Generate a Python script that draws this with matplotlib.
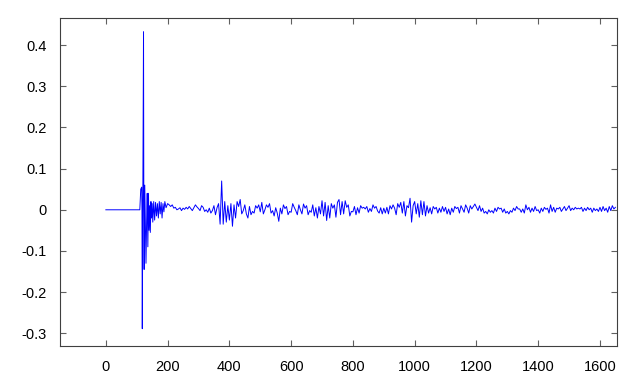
import numpy as np
import matplotlib
matplotlib.use("Agg")
import matplotlib.pyplot as plt

plt.rcParams['font.family'] = ['Liberation Sans', 'DejaVu Sans']

## DATA

# onset: flat line, direct arrival spike and early ringing
onset_x = [0, 110, 113, 116, 117, 118, 120, 122, 123, 124, 126, 128, 130, 132, 134,
           136, 138, 140, 142, 144, 146, 148, 150, 152, 155, 158, 161, 164, 167, 170,
           173, 176, 179, 182, 185, 188, 191, 195]
onset_y = [0.0, 0.0, 0.05, 0.055, 0.0, -0.289, 0.06, 0.433, 0.0, -0.145, 0.06, -0.04,
           -0.13, -0.03, 0.04, -0.09, 0.04, -0.05, 0.01, -0.055, 0.02, -0.02, 0.015,
           -0.03, 0.02, -0.025, 0.018, -0.015, 0.015, -0.02, 0.02, -0.01, 0.018, -0.02,
           0.015, -0.005, 0.02, 0.005]

# tail: one value every 5 samples from 200 to 1650
tail_start, tail_step = 200, 5
tail_y = [
    0.015, 0.012, 0.008, 0.012, 0.004, 0.006, 0.0, 0.002, 0.005, -0.002,
    0.004, 0.001, 0.006, 0.002, 0.008, 0.003, -0.002, 0.005, 0.012, 0.007,
    0.003, -0.002, 0.01, 0.006, -0.004, 0.0, -0.006, 0.004, -0.008, -0.002,
    0.01, -0.012, 0.005, 0.015, -0.035, 0.07, -0.035, 0.02, -0.03, 0.01,
    -0.025, 0.015, -0.04, 0.012, -0.02, 0.02, 0.008, 0.025, -0.01, -0.002,
    0.012, -0.01, -0.02, 0.008, -0.012, -0.004, -0.008, 0.01, 0.004, 0.012,
    -0.005, 0.018, -0.01, 0.0, 0.012, 0.006, 0.015, -0.008, -0.002, -0.015,
    0.005, -0.008, -0.028, 0.004, -0.01, 0.012, 0.003, 0.008, -0.012, -0.004,
    -0.006, 0.015, 0.006, -0.002, -0.012, 0.012, 0.0, -0.01, 0.014, 0.004,
    0.01, -0.012, -0.002, -0.006, 0.012, -0.015, 0.005, -0.02, 0.008, -0.01,
    0.022, -0.015, 0.018, -0.026, 0.01, -0.02, 0.015, 0.004, 0.012, -0.018,
    0.018, 0.025, -0.012, 0.02, -0.01, 0.022, 0.006, 0.012, -0.015, -0.004,
    -0.005, 0.008, -0.012, 0.005, -0.008, 0.01, 0.004, 0.006, 0.002, 0.008,
    -0.006, 0.003, -0.004, 0.012, 0.004, 0.008, -0.003, -0.008, 0.005, -0.01,
    0.004, -0.008, 0.006, -0.01, 0.01, 0.002, 0.012, 0.004, -0.012, 0.015,
    0.006, 0.018, -0.008, 0.02, -0.015, 0.01, 0.005, 0.028, -0.03, 0.01,
    0.02, -0.01, 0.015, -0.018, 0.022, -0.012, 0.02, -0.015, 0.01, -0.008,
    0.005, -0.01, 0.008, 0.002, 0.006, -0.008, 0.004, -0.006, 0.008, -0.004,
    0.006, -0.01, 0.002, -0.012, 0.004, -0.006, 0.008, 0.003, 0.006, -0.008,
    0.01, 0.002, -0.006, 0.012, 0.004, -0.008, 0.01, 0.002, 0.008, 0.014,
    0.006, -0.002, 0.01, -0.004, 0.004, -0.008, -0.004, -0.01, 0.0, -0.006,
    -0.002, -0.008, 0.004, -0.004, 0.006, 0.002, 0.004, -0.006, 0.002, -0.008,
    -0.004, -0.01, -0.002, -0.006, 0.004, -0.002, 0.008, 0.002, 0.002, -0.006,
    0.002, -0.008, 0.012, 0.0, 0.006, -0.006, 0.004, -0.004, 0.008, -0.002,
    0.0, -0.008, 0.004, -0.004, 0.006, 0.001, 0.004, -0.008, 0.012, -0.004,
    0.006, -0.006, 0.004, 0.002, 0.006, -0.004, 0.002, 0.008, -0.002, 0.004,
    0.01, -0.002, 0.004, 0.0, 0.006, 0.002, 0.004, 0.002, 0.006, -0.004,
    0.004, -0.002, 0.006, 0.0, 0.004, -0.006, 0.004, -0.002, 0.002, -0.004,
    0.006, -0.004, 0.008, -0.002, 0.004, -0.006, 0.008, -0.002, 0.01, 0.002, 0.006,
]

x_ticks = [0, 200, 400, 600, 800, 1000, 1200, 1400, 1600]
y_ticks = [-0.3, -0.2, -0.1, 0, 0.1, 0.2, 0.3, 0.4]

## PLOT
tail_x = tail_start + tail_step * np.arange(len(tail_y))
x = np.concatenate([onset_x, tail_x])
y = np.concatenate([onset_y, tail_y])

fig = plt.figure(figsize=(6.4, 3.84), dpi=100)
ax = fig.add_axes([0.093, 0.099, 0.871, 0.854])
ax.plot(x, y, color='#0000ff', linewidth=0.7)

ax.set_xlim(-150, 1655)
ax.set_ylim(-0.331, 0.466)
ax.set_xticks(x_ticks)
ax.set_yticks(y_ticks)
ax.set_xticklabels([str(t) for t in x_ticks])
ax.set_yticklabels(['-0.3', '-0.2', '-0.1', '0', '0.1', '0.2', '0.3', '0.4'])

for s in ax.spines.values():
    s.set_color('#404040')
    s.set_linewidth(0.8)
ax.tick_params(direction='in', length=4, width=0.8, color='#606060',
               top=True, right=True, labelsize=10.5, labelcolor='black')
ax.tick_params(axis='x', pad=10)
ax.tick_params(axis='y', pad=9)

fig.savefig('out.png', dpi=100)
